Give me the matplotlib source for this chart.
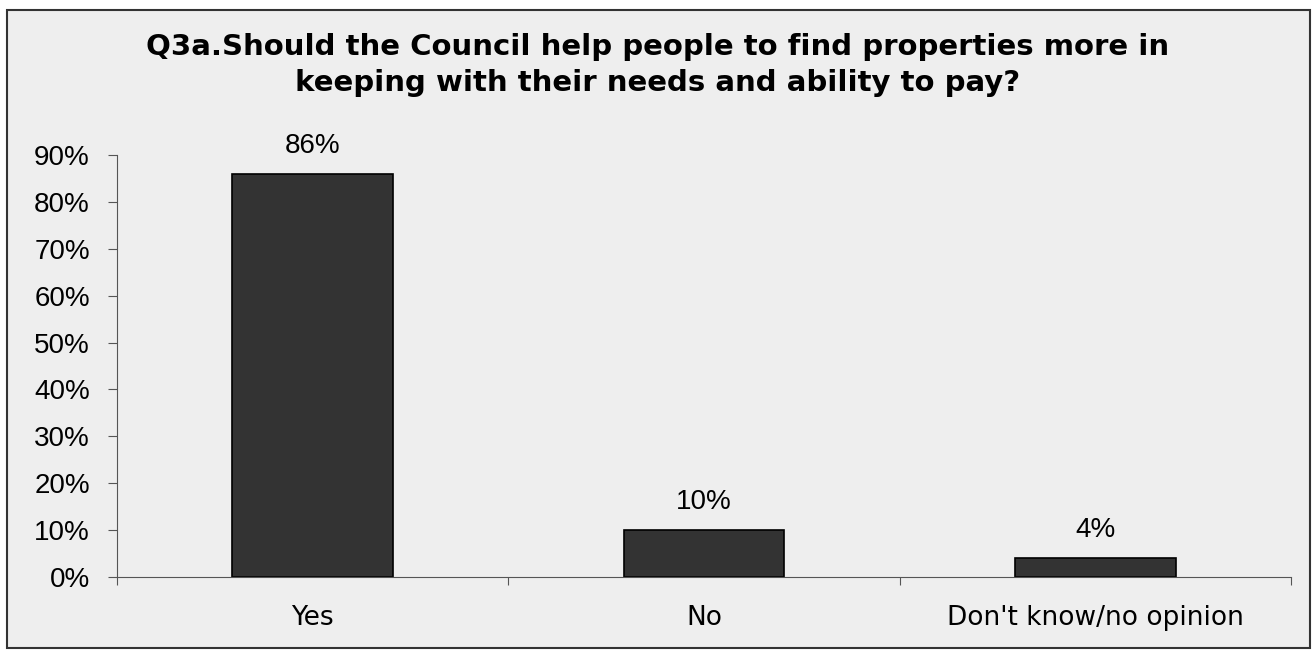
import matplotlib.pyplot as plt
from matplotlib.patches import Rectangle

# Survey answers
categories = ['Yes', 'No', "Don't know/no opinion"]
values = [86, 10, 4]
yticks = list(range(0, 100, 10))
title = ('Q3a.Should the Council help people to find properties more in\n'
         'keeping with their needs and ability to pay?')

fig = plt.figure(figsize=(13.13, 6.5), dpi=100)
fig.patch.set_facecolor('white')

# grey panel with dark border
fig.patches.append(Rectangle((7 / 1313, 2 / 650), 1303 / 1313, 638 / 650,
                             transform=fig.transFigure, facecolor='#eeeeee',
                             edgecolor='#333333', linewidth=1.5, zorder=-10))

ax = fig.add_axes([117 / 1313, 73 / 650, 1174 / 1313, 422 / 650])
ax.set_facecolor('none')

x = list(range(len(categories)))
ax.bar(x, values, width=0.41, color='#333333', edgecolor='black', linewidth=1.2, zorder=2)

for xi, v in zip(x, values):
    ax.annotate(f'{v}%', (xi, v), xytext=(0, 20), textcoords='offset points',
                ha='center', va='center', fontsize=20, family='Liberation Sans')

ax.set_xlim(-0.5, len(categories) - 0.5)
ax.set_ylim(0, 90)
ax.set_yticks(yticks)
ax.set_yticklabels([f'{t}%' for t in yticks], fontsize=20, family='Liberation Sans')

# category labels centred, tick marks between categories
ax.set_xticks([i - 0.5 for i in range(len(categories) + 1)])
ax.set_xticklabels([])
ax.set_xticks(x, minor=True)
ax.set_xticklabels(categories, minor=True, fontsize=19, family='DejaVu Sans')
ax.tick_params(axis='x', which='minor', length=0, pad=20)
ax.tick_params(axis='x', which='major', length=5.5, color='#555555', direction='out')
ax.tick_params(axis='y', length=6.5, color='#555555', pad=13)

for s in ['top', 'right']:
    ax.spines[s].set_visible(False)
for s in ['left', 'bottom']:
    ax.spines[s].set_color('#555555')

fig.text(658 / 1313, 1 - 65 / 650, title, ha='center', va='center',
         fontsize=21, fontweight='bold', linespacing=1.35)

plt.savefig('out.png', dpi=100)
